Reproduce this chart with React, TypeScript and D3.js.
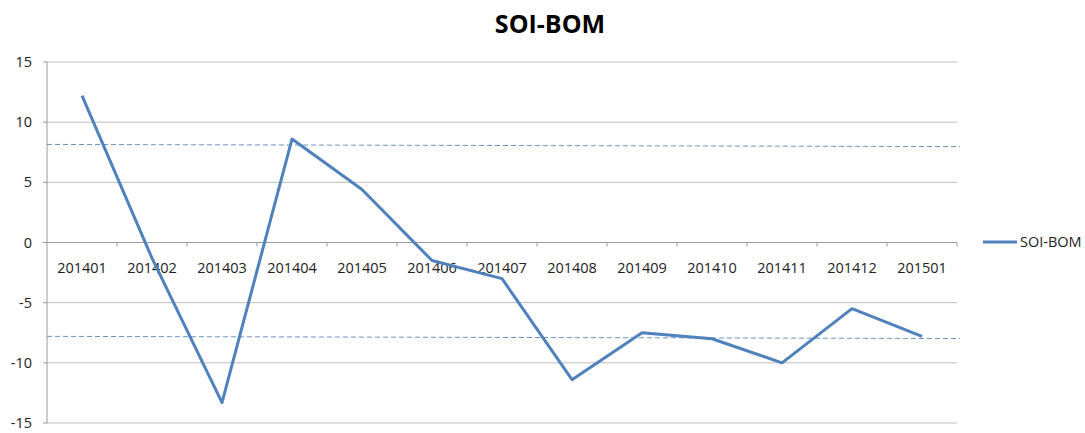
import React from "react";
import * as d3 from "d3";

const categories = ["201401","201402","201403","201404","201405","201406","201407","201408","201409","201410","201411","201412","201501"];
const soiValues = [12.2, -1.3, -13.3, 8.6, 4.4, -1.5, -3.0, -11.4, -7.5, -8.0, -10.0, -5.5, -7.8];
const yTicks = [15, 10, 5, 0, -5, -10, -15];
const upperRef = [8.15, 7.97];
const lowerRef = [-7.8, -7.98];

export default function App() {
  const W = 1085, H = 433;
  const left = 47, right = 957, top = 62, bottom = 423;
  const x = d3.scaleBand<string>().domain(categories).range([left, right]);
  const y = d3.scaleLinear().domain([-15, 15]).range([bottom, top]);
  const cx = (c: string) => (x(c) as number) + x.bandwidth() / 2;
  const line = d3.line<number>().x((_, i) => cx(categories[i])).y((d) => y(d));
  const font = "'Open Sans', 'Liberation Sans', sans-serif";
  const refEnd = 960;
  const fs = 14.5;
  return (
    <svg width={W} height={H} style={{ position: "absolute", left: 0, top: 0, background: "#fff" }}>
      <text x={550} y={33} textAnchor="middle" fontFamily={font} fontWeight="bold" fontSize={25} fill="#000">SOI-BOM</text>
      {yTicks.map((t) => (
        <g key={t}>
          <line x1={left} x2={right} y1={y(t)} y2={y(t)} stroke="#BDBDBD" strokeWidth={1} />
          <line x1={left - 4} x2={left} y1={y(t)} y2={y(t)} stroke="#9A9A9A" strokeWidth={1} />
          <text x={32} y={y(t)} dy="0.35em" textAnchor="end" fontFamily={font} fontSize={fs} fill="#222">{t}</text>
        </g>
      ))}
      <line x1={left} x2={left} y1={top} y2={bottom} stroke="#9A9A9A" strokeWidth={1} />
      <line x1={left} x2={right} y1={y(0)} y2={y(0)} stroke="#9A9A9A" strokeWidth={1} />
      {categories.map((c, i) => (
        <g key={c}>
          <line x1={(x(c) as number) + x.bandwidth()} x2={(x(c) as number) + x.bandwidth()} y1={y(0)} y2={y(0) + 4} stroke="#9A9A9A" strokeWidth={1} />
          <text x={cx(c)} y={y(0) + 25} dy="0.35em" textAnchor="middle" fontFamily={font} fontSize={fs} fill="#222">{c}</text>
        </g>
      ))}
      <line x1={left} x2={refEnd} y1={y(upperRef[0])} y2={y(upperRef[1])} stroke="#4F81BD" strokeWidth={1} strokeDasharray="5,3" opacity={0.85} />
      <line x1={left} x2={refEnd} y1={y(lowerRef[0])} y2={y(lowerRef[1])} stroke="#4F81BD" strokeWidth={1} strokeDasharray="5,3" opacity={0.85} />
      <path d={line(soiValues) || ""} fill="none" stroke="#4F81BD" strokeWidth={3} strokeLinejoin="round" />
      <line x1={983} x2={1017} y1={242} y2={242} stroke="#4F81BD" strokeWidth={3} />
      <text x={1020} y={242} dy="0.35em" fontFamily={font} fontSize={fs} fill="#222">SOI-BOM</text>
    </svg>
  );
}
